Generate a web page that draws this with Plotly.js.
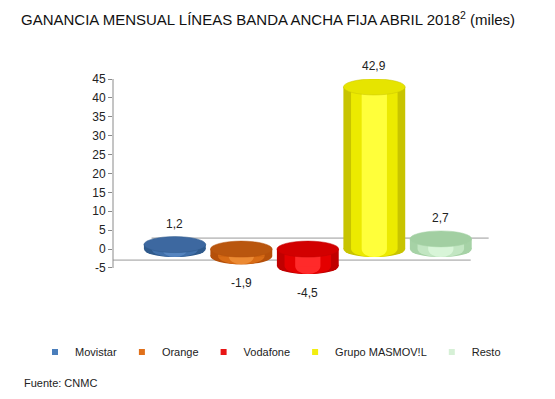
<!DOCTYPE html>
<html>
<head>
<meta charset="utf-8">
<script src="https://cdn.plot.ly/plotly-3.0.1.min.js"></script>
<style>html,body{margin:0;padding:0;background:#fff;}#chart{width:555px;height:399px;}</style>
</head>
<body>
<div id="chart"></div>
<script>
// ---- data ----
const categories = ["Movistar", "Orange", "Vodafone", "Grupo MASMOV!L", "Resto"];
const values = [1.2, -1.9, -4.5, 42.9, 2.7];
const tickVals = [-5, 0, 5, 10, 15, 20, 25, 30, 35, 40, 45];
const tickText = ["-5", "0", "5", "10", "15", "20", "25", "30", "35", "40", "45"];

// ---- styles ----
const legendColors = ["#4a7ebb", "#e0701a", "#e81515", "#f2ee10", "#d6f0d6"];
const sideColors = [
  ["#2f5a8c", "#4170aa", "#5584bf"],
  ["#b5500a", "#d86c16", "#ec8a33"],
  ["#c00000", "#e40000", "#ff2a2a"],
  ["#c8c400", "#ecea00", "#ffff3a"],
  ["#a6d2a6", "#c2e6c2", "#d8f5d8"]
];
const topColors = ["#3d68a0", "#b9560e", "#d20000", "#e6e400", "#a2cfa2"];
const layerWidths = [0.93, 0.7, 0.38];
const RY = 8; // ellipse half-height in px

// plot-area geometry (px) used to place paper-referenced items
const PL = 113, PR = 490, PT = 79, PB = 285;
const px2paperX = (px) => (px - PL) / (PR - PL);
const py2paperY = (py) => (PB - py) / (PB - PT);

const xs = categories.map((c, i) => i);
const traces = [];
const shapes = [];

// floor (3D base plane) lines
shapes.push({type: "line", layer: "below", xref: "x", yref: "y", ysizemode: "pixel", yanchor: 0,
  x0: -0.35, x1: 4.72, y0: 11, y1: 11, line: {color: "#9a9a9a", width: 1}});
shapes.push({type: "line", layer: "below", xref: "x", yref: "y", ysizemode: "pixel", yanchor: 0,
  x0: -0.93, x1: 4.45, y0: -11, y1: -11, line: {color: "#9a9a9a", width: 1}});

categories.forEach((cat, i) => {
  const v = values[i];
  const low = Math.min(0, v), high = Math.max(0, v);
  layerWidths.forEach((w, k) => {
    traces.push({
      type: "bar", x: [xs[i]], y: [v], width: [w], showlegend: false,
      marker: {color: sideColors[i][k], line: {width: 0}}, hoverinfo: "skip"
    });
    shapes.push({type: "circle", layer: "below", xref: "x", yref: "y", ysizemode: "pixel", yanchor: low,
      x0: xs[i] - w / 2, x1: xs[i] + w / 2, y0: -RY, y1: RY,
      fillcolor: sideColors[i][k], line: {width: 0}});
  });
  shapes.push({type: "circle", layer: "above", xref: "x", yref: "y", ysizemode: "pixel", yanchor: high,
    x0: xs[i] - layerWidths[0] / 2, x1: xs[i] + layerWidths[0] / 2, y0: -RY, y1: RY,
    fillcolor: topColors[i], line: {width: 0.5, color: sideColors[i][0]}});
  traces.push({type: "scatter", mode: "markers", x: [null], y: [null], name: cat, showlegend: true,
    marker: {symbol: "square", size: 6, color: legendColors[i]}});
});

// y axis line from -5 to 45
shapes.push({type: "line", xref: "paper", yref: "y", x0: 0, x1: 0,
  y0: tickVals[0], y1: tickVals[tickVals.length - 1], line: {color: "#8a8a8a", width: 1}});

const annotations = categories.map((c, i) => ({
  x: xs[i], y: values[i], xref: "x", yref: "y",
  text: values[i].toFixed(1).replace(".", ","), showarrow: false,
  yshift: values[i] >= 0 ? 21 : -27,
  font: {family: "Liberation Sans, Arial, sans-serif", size: 12, color: "#222"}
}));
annotations.push({xref: "paper", yref: "paper", x: px2paperX(22), y: py2paperY(383),
  xanchor: "left", yanchor: "middle", text: "Fuente: CNMC", showarrow: false,
  font: {family: "Liberation Sans, Arial, sans-serif", size: 11, color: "#222"}});

const layout = {
  width: 555, height: 399,
  paper_bgcolor: "#fff", plot_bgcolor: "rgba(0,0,0,0)",
  margin: {l: PL, r: 555 - PR, t: PT, b: 399 - PB},
  separators: ",.",
  font: {family: "Liberation Sans, Arial, sans-serif", color: "#222"},
  title: {text: "GANANCIA MENSUAL LÍNEAS BANDA ANCHA FIJA ABRIL 2018<sup>2</sup> (miles)",
    xref: "container", yref: "container", x: 21 / 555, xanchor: "left", y: 1 - 20 / 399, yanchor: "middle",
    font: {size: 15, color: "#111"}},
  barmode: "overlay",
  xaxis: {range: [-0.93, 4.74], showticklabels: false, showgrid: false, zeroline: false, showline: false, fixedrange: true},
  yaxis: {range: [-9.5, 45], tickmode: "array", tickvals: tickVals, ticktext: tickText,
    ticks: "outside", ticklen: 4, tickcolor: "#8a8a8a", showgrid: false, zeroline: false, showline: false,
    tickfont: {size: 12, color: "#222"}},
  legend: {orientation: "h", xref: "paper", yref: "paper", x: px2paperX(35), xanchor: "left",
    y: py2paperY(352), yanchor: "middle", font: {size: 11, color: "#222"}},
  shapes: shapes,
  annotations: annotations
};

Plotly.newPlot("chart", traces, layout, {displayModeBar: false, staticPlot: true});
</script>
</body>
</html>
